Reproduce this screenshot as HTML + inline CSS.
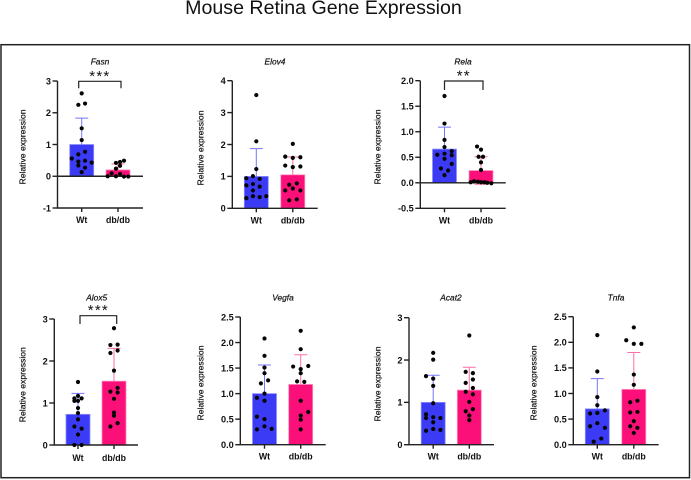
<!DOCTYPE html>
<html>
<head>
<meta charset="utf-8">
<title>Mouse Retina Gene Expression</title>
<style>
html,body{margin:0;padding:0;background:#fff;width:691px;height:480px;overflow:hidden}
svg{display:block}
text{font-family:"Liberation Sans",sans-serif;fill:#111}
</style>
</head>
<body>
<svg id="figure" xmlns="http://www.w3.org/2000/svg" width="691" height="480" viewBox="0 0 691 480">
<text x="323.5" y="14" text-anchor="middle" font-size="19.6">Mouse Retina Gene Expression</text>
<rect x="1" y="44.7" width="688.5" height="433" fill="none" stroke="#222" stroke-width="1.5"/>
</svg>
<script>
const categories = ['Wt', 'db/db'];
const yAxisTitle = 'Relative expression';

const fasnMeans = [1.0, 0.2];
const fasnErrors = [0.83, 0.19];
const fasnTicks = [-1, 0, 1, 2, 3];
const fasnWt = [2.61, 2.25, 2.29, 1.51, 1.14, 0.77, 0.69, 0.56, 0.46, 0.49, 0.43, 0.34, 0.27, 0.13];
const fasnWtSpread = [0, -.28, .28, 0, 0, .28, -.28, -.83, -.28, .28, .83, -.28, .28, 0];
const fasnDb = [0.49, 0.45, 0.42, 0.33, 0.24, 0.09, 0.07, 0, 0, -0.01, -0.01];
const fasnDbSpread = [.5, .17, -.17, .17, -.17, -.53, .17, -.86, -.17, .5, .86];

const elov4Means = [1.0, 1.05];
const elov4Errors = [0.87, 0.56];
const elov4Ticks = [0, 1, 2, 3, 4];
const elov4Wt = [3.55, 2.1, 1.23, 1.01, 0.94, 0.92, 0.72, 0.76, 0.68, 0.56, 0.38, 0.35, 0.38, 0.32];
const elov4WtSpread = [0, 0, 0, -.28, -.83, .28, -.83, -.28, .28, -.28, -.28, .28, .83, -.83];
const elov4Db = [2.02, 1.62, 1.58, 1.6, 1.34, 1.29, 1.31, 0.78, 0.74, 0.62, 0.56, 0.56, 0.28, 0.25];
const elov4DbSpread = [0, -.63, 0, .63, -.63, 0, .63, .33, -.3, 0, -.63, .63, .33, -.3];

const relaMeans = [0.66, 0.24];
const relaErrors = [0.43, 0.27];
const relaTicks = [-0.5, 0, 0.5, 1, 1.5, 2];
const relaWt = [1.7, 1.16, 0.84, 0.7, 0.62, 0.57, 0.55, 0.54, 0.47, 0.37, 0.28, 0.24, 0.15];
const relaWtSpread = [0, 0, 0, 0, .6, 0, -.6, .6, 0, .6, -.3, .3, 0];
const relaDb = [0.71, 0.65, 0.51, 0.51, 0.4, 0.25, 0.01, 0.03, 0.02, 0.01, 0.01, 0, -0.01];
const relaDbSpread = [-.33, 0, -.2, .17, 0, 0, -.86, -.58, -.25, 0, .28, .53, .86];

const alox5Means = [0.73, 1.52];
const alox5Errors = [0.5, 0.78];
const alox5Ticks = [0, 1, 2, 3];
const alox5Wt = [1.5, 1.17, 1.11, 1.11, 1.05, 1.05, 0.88, 0.76, 0.61, 0.44, 0.39, 0.25, 0, 0];
const alox5WtSpread = [0, 0, -.3, .3, -.3, 0, 0, 0, 0, -.3, .3, 0, -.3, .3];
const alox5Db = [2.78, 2.38, 2.39, 2.19, 2.25, 1.77, 1.36, 1.27, 1.25, 1.1, 0.77, 0.7, 0.52, 0.44];
const alox5DbSpread = [0, -.3, .3, -.3, .3, 0, .3, -.3, .3, 0, 0, 0, .3, -.3];

const vegfaMeans = [1.0, 1.18];
const vegfaErrors = [0.56, 0.58];
const vegfaTicks = [0, 0.5, 1, 1.5, 2, 2.5];
const vegfaWt = [2.08, 1.74, 1.51, 1.4, 1.2, 1.26, 1.0, 0.92, 0.86, 0.55, 0.5, 0.3, 0.36, 0.31];
const vegfaWtSpread = [0, 0, 0, 0, -.3, .3, 0, -.63, 0, -.63, 0, -.63, 0, .6];
const vegfaDb = [2.23, 1.87, 1.53, 1.48, 1.54, 1.4, 1.24, 1.23, 0.86, 0.64, 0.57, 0.49, 0.3];
const vegfaDbSpread = [0, 0, -.63, 0, .63, 0, -.3, .3, 0, .63, 0, 0, 0];

const acat2Means = [1.0, 1.29];
const acat2Errors = [0.64, 0.54];
const acat2Ticks = [0, 1, 2, 3];
const acat2Wt = [2.17, 2.01, 1.62, 1.56, 1.39, 0.98, 0.72, 0.63, 0.65, 0.63, 0.53, 0.33, 0.37, 0.35];
const acat2WtSpread = [0, 0, -.6, 0, 0, 0, -.6, -.6, 0, .6, 0, -.6, 0, .6];
const acat2Db = [2.58, 1.72, 1.69, 1.54, 1.46, 1.34, 1.25, 1.19, 1.01, 0.79, 0.84, 0.69, 0.58];
const acat2DbSpread = [0, -.3, .3, .3, -.3, .3, -.3, .3, 0, -.3, .3, 0, 0];

const tnfaMeans = [0.7, 1.08];
const tnfaErrors = [0.59, 0.72];
const tnfaTicks = [0, 0.5, 1, 1.5, 2, 2.5];
const tnfaWt = [2.14, 1.43, 0.93, 0.77, 0.67, 0.61, 0.62, 0.42, 0.36, 0.33, 0.12, 0.06];
const tnfaWtSpread = [0, 0, 0, 0, .63, -.6, 0, 0, -.6, .63, .33, -.3];
const tnfaDb = [2.29, 2.04, 1.97, 1.97, 1.37, 1.17, 0.83, 0.86, 0.63, 0.64, 0.46, 0.36, 0.33, 0.23];
const tnfaDbSpread = [0, -.63, 0, .63, 0, 0, -.3, .3, -.3, .3, 0, -.3, .3, 0];

const panels = [
  {gene:'Fasn', means:fasnMeans, errors:fasnErrors, ticks:fasnTicks, wt:fasnWt, wtS:fasnWtSpread, db:fasnDb, dbS:fasnDbSpread, dec:0,
   axisX:57.5, axisEnd:143, top:81, bottom:208, centers:[81.7,118], titleX:100, titleY:61.7, labelX:22.7, labelY:144, catY:220, stars:'***', bracket:[78.7,121,81.3,88.3]},
  {gene:'Elov4', means:elov4Means, errors:elov4Errors, ticks:elov4Ticks, wt:elov4Wt, wtS:elov4WtSpread, db:elov4Db, dbS:elov4DbSpread, dec:0,
   axisX:232.3, axisEnd:317.7, top:80.7, bottom:208.3, centers:[256.3,292.8], titleX:275, titleY:61.7, labelX:200.7, labelY:145, catY:220.3},
  {gene:'Rela', means:relaMeans, errors:relaErrors, ticks:relaTicks, wt:relaWt, wtS:relaWtSpread, db:relaDb, dbS:relaDbSpread, dec:1,
   axisX:420.3, axisEnd:505.7, top:80.7, bottom:208.3, centers:[444.5,481], titleX:463, titleY:61.7, labelX:377.7, labelY:144, catY:220.3, stars:'**', bracket:[444.5,483,81,90]},
  {gene:'Alox5', means:alox5Means, errors:alox5Errors, ticks:alox5Ticks, wt:alox5Wt, wtS:alox5WtSpread, db:alox5Db, dbS:alox5DbSpread, dec:0,
   axisX:54.3, axisEnd:138, top:319, bottom:445, centers:[78,114], titleX:96.7, titleY:297.3, labelX:22.7, labelY:381.7, catY:457.7, stars:'***', bracket:[80,116.7,315.7,324]},
  {gene:'Vegfa', means:vegfaMeans, errors:vegfaErrors, ticks:vegfaTicks, wt:vegfaWt, wtS:vegfaWtSpread, db:vegfaDb, dbS:vegfaDbSpread, dec:1,
   axisX:240.3, axisEnd:325.7, top:317, bottom:444.7, centers:[264.5,300.7], titleX:283, titleY:297.3, labelX:200.7, labelY:380, catY:456.3},
  {gene:'Acat2', means:acat2Means, errors:acat2Errors, ticks:acat2Ticks, wt:acat2Wt, wtS:acat2WtSpread, db:acat2Db, dbS:acat2DbSpread, dec:0,
   axisX:409, axisEnd:494, top:317.7, bottom:444.7, centers:[433.2,469.3], titleX:451, titleY:297.3, labelX:377.7, labelY:381, catY:456.3},
  {gene:'Tnfa', means:tnfaMeans, errors:tnfaErrors, ticks:tnfaTicks, wt:tnfaWt, wtS:tnfaWtSpread, db:tnfaDb, dbS:tnfaDbSpread, dec:1,
   axisX:573.3, axisEnd:658.7, top:316.7, bottom:444.7, centers:[597.3,633.8], titleX:616, titleY:297.3, labelX:533.3, labelY:380, catY:456.3}
];

const fills = ['#3b3bf6', '#fb0f78'];
const edges = ['#8f8fff', '#ff8fbe'];
const whiskers = ['#7676fb', '#fb6fa8'];
const BAR_W = 24;
const SVG_NS = 'http://www.w3.org/2000/svg';
const fig = document.getElementById('figure');

function make(parent, tag, props) {
  const el = document.createElementNS(SVG_NS, tag);
  for (const k in props) el.setAttribute(k, props[k]);
  parent.appendChild(el);
  return el;
}

function drawPanel(p) {
  const slug = p.gene.toLowerCase();
  const g = make(fig, 'g', {});
  
  

  const minV = p.ticks[0];
  const maxV = p.ticks[p.ticks.length - 1];
  const y = v => p.bottom - (v - minV) / (maxV - minV) * (p.bottom - p.top);
  const x = (group, spread) => p.centers[group] + spread * BAR_W / 2;

  const title = make(g, 'text', {x:p.titleX, y:p.titleY + 3, 'text-anchor':'middle', 'font-size':8.4, 'font-style':'italic', stroke:'#111', 'stroke-width':0.2});
  title.textContent = p.gene;
  
  

  const yTitle = make(g, 'text', {x:p.labelX, y:p.labelY, 'text-anchor':'middle', 'font-size':8.6, stroke:'#111', 'stroke-width':0.2, transform:'rotate(-90 ' + (p.labelX + 3) + ' ' + p.labelY + ')'});
  yTitle.textContent = yAxisTitle;
  
  

  categories.forEach((cat, i) => {
    const top = y(p.means[i]);
    const base = y(0);
    const bar = make(g, 'rect', {x:p.centers[i] - BAR_W / 2, y:top, width:BAR_W, height:base - top, fill:fills[i], stroke:edges[i], 'stroke-width':0.8});
    
    

    const hi = y(p.means[i] + p.errors[i]);
    const lo = y(p.means[i] - p.errors[i]);
    const err = make(g, 'path', {
      d:'M' + p.centers[i] + ' ' + top + 'V' + hi + 'M' + (p.centers[i] - 6.5) + ' ' + hi + 'H' + (p.centers[i] + 6.5) +
        (p.means[i] - p.errors[i] < 0 ? 'M' + (p.centers[i] - 6.5) + ' ' + lo + 'H' + (p.centers[i] + 6.5) : ''),
      fill:'none', stroke:whiskers[i], 'stroke-width':1});
    
    
  });

  const axes = make(g, 'path', {
    d:'M' + p.axisX + ' ' + y(maxV) + 'V' + y(minV) + 'H' + p.axisEnd + (minV < 0 ? 'M' + p.axisX + ' ' + y(0) + 'H' + p.axisEnd : ''),
    fill:'none', stroke:'#222', 'stroke-width':1.4});
  
  

  p.ticks.forEach(t => {
    const tick = make(g, 'line', {x1:p.axisX - 5, x2:p.axisX, y1:y(t), y2:y(t), stroke:'#222', 'stroke-width':1.4});
    
    
    const lab = make(g, 'text', {x:p.axisX - 6.5, y:y(t) + 3.3, 'text-anchor':'end', 'font-size':9.2, 'font-weight':'bold'});
    lab.textContent = t.toFixed(p.dec);
    
    
  });

  categories.forEach((cat, i) => {
    const tick = make(g, 'line', {x1:p.centers[i], x2:p.centers[i], y1:y(minV), y2:y(minV) + 4, stroke:'#222', 'stroke-width':1.4});
    
    
    const lab = make(g, 'text', {x:p.centers[i], y:p.catY + 3.2, 'text-anchor':'middle', 'font-size':8.8, 'font-weight':'bold'});
    lab.textContent = cat;
    
    
  });

  [[p.wt, p.wtS, 0], [p.db, p.dbS, 1]].forEach(([vals, spread, group]) => {
    vals.forEach((v, k) => {
      const dot = make(g, 'circle', {cx:x(group, spread[k]), cy:y(v), r:2.1, fill:'#050505'});
      
      
    });
  });

  if (p.bracket) {
    const [x1, x2, y1, y2] = p.bracket;
    const br = make(g, 'path', {d:'M' + x1 + ' ' + y2 + 'V' + y1 + 'H' + x2 + 'V' + y2, fill:'none', stroke:'#222', 'stroke-width':1.2});
    
    
    const st = make(g, 'text', {x:(x1 + x2) / 2, y:y1 - 0.5, 'text-anchor':'middle', 'font-size':15, 'letter-spacing':'1.2'});
    st.textContent = p.stars;
    
    
  }
}

panels.forEach(drawPanel);
</script>
</body>
</html>
